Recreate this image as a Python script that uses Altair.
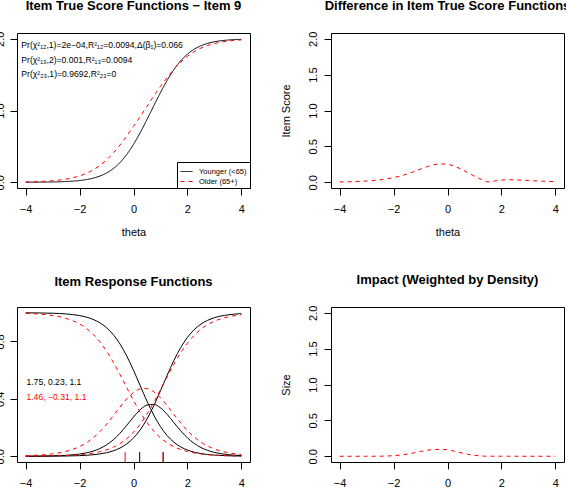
import altair as alt
import pandas as pd

FONT = "Liberation Sans"

# ---- data ----
theta = [-4, -3.5, -3, -2.5, -2, -1.75, -1.5, -1.25, -1, -0.75, -0.5, -0.25, 0,
         0.25, 0.5, 0.75, 1, 1.25, 1.5, 1.75, 2, 2.25, 2.5, 2.75, 3, 3.5, 4]

groups = ["Younger (<65)", "Older (65+)"]

its_younger = [0.0007, 0.0018, 0.0043, 0.0102, 0.0242, 0.0371, 0.0567, 0.0859, 0.1288,
               0.1903, 0.2753, 0.3877, 0.5280, 0.6930, 0.8752, 1.0645, 1.2501, 1.4215,
               1.5705, 1.6919, 1.7853, 1.8538, 1.9021, 1.9352, 1.9575, 1.9819, 1.9924]
its_older = [0.0051, 0.0106, 0.0218, 0.0445, 0.0889, 0.1242, 0.1717, 0.2335, 0.3120,
             0.4076, 0.5193, 0.6442, 0.7784, 0.9180, 1.0594, 1.1996, 1.3349, 1.4615,
             1.5756, 1.6738, 1.7550, 1.8194, 1.8690, 1.9062, 1.9333, 1.9670, 1.9839]
its_difference = [0.0044, 0.0088, 0.0176, 0.0343, 0.0647, 0.0871, 0.1151, 0.1476, 0.1832,
                  0.2173, 0.2440, 0.2565, 0.2504, 0.2250, 0.1842, 0.1351, 0.0848, 0.0400,
                  0.0051, 0.0181, 0.0303, 0.0344, 0.0331, 0.0290, 0.0242, 0.0149, 0.0085]
impact = [0.0000, 0.0000, 0.0002, 0.0012, 0.0080, 0.0160, 0.0300, 0.0470, 0.0660,
          0.0830, 0.0940, 0.0960, 0.0890, 0.0710, 0.0490, 0.0280, 0.0130, 0.0040,
          0.0005, 0.0010, 0.0010, 0.0005, 0.0003, 0.0001, 0.0000, 0.0000, 0.0000]

prob_younger_0 = [0.9994, 0.9985, 0.9965, 0.9917, 0.9802, 0.9697, 0.9538, 0.9302, 0.8959,
                  0.8475, 0.7820, 0.6984, 0.5993, 0.4913, 0.3840, 0.2870, 0.2063, 0.1437,
                  0.0977, 0.0653, 0.0432, 0.0283, 0.0185, 0.0120, 0.0078, 0.0033, 0.0014]
prob_younger_1 = [0.0005, 0.0011, 0.0027, 0.0065, 0.0154, 0.0235, 0.0357, 0.0537, 0.0794,
                  0.1147, 0.1607, 0.2155, 0.2734, 0.3244, 0.3568, 0.3615, 0.3373, 0.2911,
                  0.2341, 0.1775, 0.1283, 0.0896, 0.0609, 0.0408, 0.0269, 0.0115, 0.0048]
prob_younger_2 = [0.0001, 0.0003, 0.0008, 0.0018, 0.0044, 0.0068, 0.0105, 0.0161, 0.0247,
                  0.0378, 0.0573, 0.0861, 0.1273, 0.1843, 0.2592, 0.3515, 0.4564, 0.5652,
                  0.6682, 0.7572, 0.8285, 0.8821, 0.9206, 0.9472, 0.9653, 0.9852, 0.9938]
prob_older_0 = [0.9954, 0.9906, 0.9807, 0.9607, 0.9218, 0.8912, 0.8503, 0.7978, 0.7325,
                0.6553, 0.5689, 0.4781, 0.3888, 0.3063, 0.2346, 0.1754, 0.1287, 0.0930,
                0.0664, 0.0471, 0.0332, 0.0233, 0.0163, 0.0113, 0.0079, 0.0038, 0.0018]
prob_older_1 = [0.0040, 0.0082, 0.0168, 0.0341, 0.0675, 0.0935, 0.1277, 0.1709, 0.2230,
                0.2818, 0.3429, 0.3996, 0.4440, 0.4694, 0.4714, 0.4496, 0.4077, 0.3525,
                0.2916, 0.2320, 0.1786, 0.1340, 0.0984, 0.0712, 0.0509, 0.0254, 0.0125]
prob_older_2 = [0.0006, 0.0012, 0.0025, 0.0052, 0.0107, 0.0154, 0.0220, 0.0313, 0.0445,
                0.0629, 0.0882, 0.1223, 0.1672, 0.2243, 0.2940, 0.3750, 0.4636, 0.5545,
                0.6420, 0.7209, 0.7882, 0.8427, 0.8853, 0.9175, 0.9412, 0.9708, 0.9857]

thresholds_younger = [0.23, 1.1]
thresholds_older = [-0.31, 1.1]

stat_lines = ["Pr(\u03c7\u00b2\u2081\u2082,1)=2e\u221204,R\u00b2\u2081\u2082=0.0094,\u0394(\u03b2\u2081)=0.066",
              "Pr(\u03c7\u00b2\u2081\u2083,2)=0.001,R\u00b2\u2081\u2083=0.0094",
              "Pr(\u03c7\u00b2\u2082\u2083,1)=0.9692,R\u00b2\u2082\u2083=0"]
stat_y = [1.91, 1.705, 1.51]
param_labels = ["1.75, 0.23, 1.1", "1.46, \u22120.31, 1.1"]
param_y = [0.52, 0.41]

x_ticks = [-4, -2, 0, 2, 4]
score_ticks = [0, 0.5, 1, 1.5, 2]
prob_ticks = [0, 0.2, 0.4, 0.6, 0.8, 1]

# ---- tables ----
n = len(theta)
its_df = pd.DataFrame({"theta": theta * 2, "score": its_younger + its_older,
                       "group": [groups[0]] * n + [groups[1]] * n})
diff_df = pd.DataFrame({"theta": theta, "score": its_difference})
impact_df = pd.DataFrame({"theta": theta, "score": impact})
young_df = pd.DataFrame({"theta": theta * 3,
                         "prob": prob_younger_0 + prob_younger_1 + prob_younger_2,
                         "cat": ["0"] * n + ["1"] * n + ["2"] * n})
old_df = pd.DataFrame({"theta": theta * 3,
                       "prob": prob_older_0 + prob_older_1 + prob_older_2,
                       "cat": ["0"] * n + ["1"] * n + ["2"] * n})
stat_df = pd.DataFrame({"theta": [-4.16] * 3, "score": stat_y, "label": stat_lines})
thr_y_df = pd.DataFrame({"theta": thresholds_younger})
thr_o_df = pd.DataFrame({"theta": thresholds_older})
param_df = pd.DataFrame({"theta": [-3.97, -3.97], "prob": param_y, "label": param_labels,
                         "group": groups})

W, H = 233, 155
DASH = [4, 4]
RED = "#FF0000"

xscale = alt.Scale(domain=[-4.32, 4.32], nice=False, zero=False)
score_scale = alt.Scale(domain=[-0.08, 2.08], nice=False, zero=False)
prob_scale = alt.Scale(domain=[-0.04, 1.04], nice=False, zero=False)


def xenc(title):
    if title:
        ax = alt.Axis(values=x_ticks, format="d", title=title, labelOverlap=False)
    else:
        ax = alt.Axis(values=x_ticks, format="d", title=None, labelOverlap=False)
    return alt.X("theta:Q", scale=xscale, axis=ax)


def yaxis(values, title):
    if title:
        return alt.Axis(values=values, format=".1f", title=title, labelOverlap=False,
                        labelPadding=6)
    return alt.Axis(values=values, format=".1f", title=None, labelOverlap=False,
                    labelPadding=5)


leg = alt.Legend(title=None, orient="bottom-right", offset=0, padding=3,
                 strokeColor="black", fillColor="white", symbolType="stroke",
                 symbolSize=144, symbolStrokeWidth=1, labelFontSize=7.5,
                 labelFont=FONT, labelColor="black", labelOffset=6, rowPadding=0,
                 cornerRadius=0)

# Top-left: item true score functions
its_lines = alt.Chart(its_df).mark_line(strokeWidth=1, interpolate="monotone").encode(
    x=xenc("theta"),
    y=alt.Y("score:Q", scale=score_scale, axis=yaxis(score_ticks, None)),
    color=alt.Color("group:N", scale=alt.Scale(domain=groups, range=["black", RED]), legend=leg),
    strokeDash=alt.StrokeDash("group:N", scale=alt.Scale(domain=groups, range=[[1, 0], DASH]), legend=leg),
)
stat_text = alt.Chart(stat_df).mark_text(align="left", baseline="middle", fontSize=8.6,
                                         font=FONT, color="black").encode(
    x=alt.X("theta:Q", scale=xscale), y=alt.Y("score:Q", scale=score_scale), text="label:N")
top_left = alt.layer(its_lines, stat_text).properties(
    width=W, height=H, title="Item True Score Functions \u2212 Item 9")

# Top-right: difference
top_right = alt.Chart(diff_df).mark_line(strokeWidth=1, color=RED, strokeDash=DASH,
                                         interpolate="monotone").encode(
    x=xenc("theta"),
    y=alt.Y("score:Q", scale=score_scale, axis=yaxis(score_ticks, "Item Score"))
).properties(width=W, height=H, title="Difference in Item True Score Functions")

# Bottom-left: item response functions
young_lines = alt.Chart(young_df).mark_line(strokeWidth=1, color="black", interpolate="monotone").encode(
    x=xenc(None),
    y=alt.Y("prob:Q", scale=prob_scale, axis=yaxis(prob_ticks, None)),
    detail="cat:N")
old_lines = alt.Chart(old_df).mark_line(strokeWidth=1, color=RED, strokeDash=DASH,
                                        interpolate="monotone").encode(
    x=alt.X("theta:Q", scale=xscale), y=alt.Y("prob:Q", scale=prob_scale), detail="cat:N")
thr_young = alt.Chart(thr_y_df).mark_rule(color="black", strokeWidth=1).encode(
    x=alt.X("theta:Q", scale=xscale), y=alt.datum(-0.04), y2=alt.datum(0.03))
thr_old = alt.Chart(thr_o_df).mark_rule(color=RED, strokeWidth=1).encode(
    x=alt.X("theta:Q", scale=xscale), y=alt.datum(-0.04), y2=alt.datum(0.03))
param_text = alt.Chart(param_df).mark_text(align="left", baseline="middle", fontSize=8.6,
                                           font=FONT).encode(
    x=alt.X("theta:Q", scale=xscale), y=alt.Y("prob:Q", scale=prob_scale), text="label:N",
    color=alt.Color("group:N", scale=alt.Scale(domain=groups, range=["black", RED]), legend=None))
bottom_left = alt.layer(young_lines, old_lines, thr_young, thr_old, param_text).properties(
    width=W, height=H, title="Item Response Functions")

# Bottom-right: impact
bottom_right = alt.Chart(impact_df).mark_line(strokeWidth=1, color=RED, strokeDash=DASH,
                                              interpolate="monotone").encode(
    x=xenc(None),
    y=alt.Y("score:Q", scale=score_scale, axis=yaxis(score_ticks, "Size"))
).properties(width=W, height=H, title="Impact (Weighted by Density)")

chart = alt.concat(top_left, top_right, bottom_left, bottom_right, columns=2,
                   spacing={"row": 119, "column": 81}, bounds="flush").resolve_scale(
    color="independent", strokeDash="independent").resolve_legend(
    color="independent", strokeDash="independent").properties(
    padding={"left": -7, "top": -1, "right": -5, "bottom": 9},
    background="white",
).configure_view(stroke="black", strokeWidth=1).configure_axis(
    domain=False, grid=False, tickSize=7, tickColor="black", tickWidth=1,
    labelColor="black", labelFont=FONT, labelFontSize=11, labelOverlap=False,
    titleColor="black", titleFont=FONT, titleFontSize=11, titleFontWeight="normal",
).configure_axisX(labelPadding=8, titlePadding=12).configure_axisY(
    labelAngle=270, labelAlign="center", labelBaseline="bottom",
    titlePadding=16,
).configure_title(fontSize=13, font=FONT, fontWeight="bold", anchor="middle",
                  offset=18, baseline="bottom", color="black")

chart.save("out.html", embed_options={"renderer": "svg", "actions": False})
